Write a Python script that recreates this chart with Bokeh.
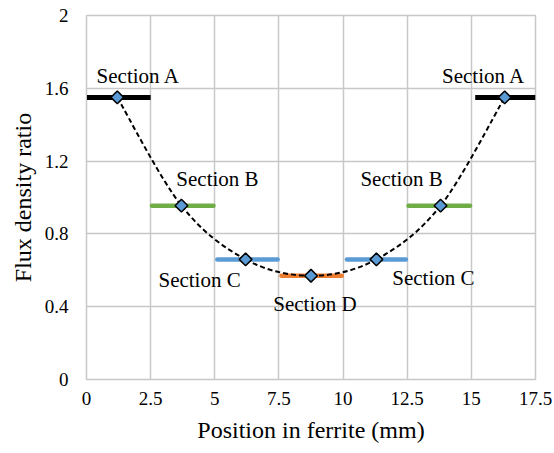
import numpy as np
from bokeh.plotting import figure
from bokeh.models import FixedTicker, ColumnDataSource, Range1d
from bokeh.core.properties import value
from bokeh.embed import file_html
from bokeh.resources import INLINE

# ---- data ----
point_x = [1.2, 3.7, 6.2, 8.75, 11.3, 13.8, 16.3]
point_y = [1.55, 0.955, 0.66, 0.57, 0.66, 0.955, 1.55]
section_names = ["Section A", "Section B", "Section C", "Section D",
                 "Section C", "Section B", "Section A"]
seg_start = [0.0, 2.55, 5.1, 7.6, 10.15, 12.55, 15.15]
seg_end = [2.5, 4.95, 7.45, 9.95, 12.45, 14.95, 17.5]
seg_colors = ["#000000", "#70AD47", "#5B9BD5", "#ED7D31", "#5B9BD5", "#70AD47", "#000000"]
x_ticks = [0, 2.5, 5, 7.5, 10, 12.5, 15, 17.5]
x_tick_labels = ["0", "2.5", "5", "7.5", "10", "12.5", "15", "17.5"]
y_ticks = [0, 0.4, 0.8, 1.2, 1.6, 2.0]
y_tick_labels = ["0", "0.4", "0.8", "1.2", "1.6", "2"]

# label pixel offsets (style; screen y grows downward)
lab_dx = [21, 36, -46, 4, 57, -39, -21]
lab_dy = [-21, -27, 21, 28, 19, -27, -21]

FONT = "Liberation Serif"

p = figure(width=554, height=453, output_backend="svg", toolbar_location=None,
           x_range=Range1d(0, 17.5), y_range=Range1d(0, 2))
p.min_border_left = 86
p.min_border_right = 19
p.min_border_top = 15
p.min_border_bottom = 74
p.outline_line_color = "#C8C8C8"
p.outline_line_width = 1.5
p.background_fill_color = "white"
p.border_fill_color = "white"

for ax in (p.xaxis[0], p.yaxis[0]):
    ax.major_tick_line_color = None
    ax.minor_tick_line_color = None
    ax.major_tick_out = 0
    ax.major_tick_in = 0
    ax.minor_tick_out = 0
    ax.minor_tick_in = 0
    ax.axis_line_color = "#C8C8C8"
    ax.major_label_text_font = FONT
    ax.major_label_text_font_size = "19px"
    ax.major_label_text_color = "#000000"
    ax.axis_label_text_font = FONT
    ax.axis_label_text_font_size = "24px"
    ax.axis_label_text_font_style = "normal"
    ax.axis_label_text_color = "#000000"

p.xaxis.ticker = FixedTicker(ticks=x_ticks)
p.yaxis.ticker = FixedTicker(ticks=y_ticks)
p.xaxis.major_label_overrides = {t: l for t, l in zip(x_ticks, x_tick_labels)}
p.yaxis.major_label_overrides = {t: l for t, l in zip(y_ticks, y_tick_labels)}
p.xaxis.axis_label = "Position in ferrite (mm)"
p.yaxis.axis_label = "Flux density ratio"
p.xaxis.major_label_standoff = 12
p.yaxis.major_label_standoff = 18
p.xaxis.axis_label_standoff = 9
p.yaxis.axis_label_standoff = 6

p.xgrid.ticker = FixedTicker(ticks=x_ticks)
p.ygrid.ticker = FixedTicker(ticks=y_ticks)
p.grid.grid_line_color = "#C8C8C8"
p.grid.grid_line_width = 1.5

# section segments
for i in range(len(point_x)):
    black = seg_colors[i] == "#000000"
    p.line([seg_start[i], seg_end[i]], [point_y[i], point_y[i]],
           line_color=seg_colors[i], line_width=5 if black else 4.5,
           line_cap="butt" if black else "round")

# smoothed dashed curve (Catmull-Rom style bezier through the points)
px = np.array(point_x)
py = np.array(point_y)
n = len(px)
x0, y0, x1, y1, cx0, cy0, cx1, cy1 = [], [], [], [], [], [], [], []
for i in range(n - 1):
    im1 = max(i - 1, 0)
    ip2 = min(i + 2, n - 1)
    x0.append(px[i]); y0.append(py[i])
    x1.append(px[i + 1]); y1.append(py[i + 1])
    cx0.append(px[i] + (px[i + 1] - px[im1]) / 6)
    cy0.append(py[i] + (py[i + 1] - py[im1]) / 6)
    cx1.append(px[i + 1] - (px[ip2] - px[i]) / 6)
    cy1.append(py[i + 1] - (py[ip2] - py[i]) / 6)
p.bezier(x0=x0, y0=y0, x1=x1, y1=y1, cx0=cx0, cy0=cy0, cx1=cx1, cy1=cy1,
         line_color="black", line_width=2, line_dash="5 3")

# diamonds
p.scatter(point_x, point_y, marker="square", angle=np.pi / 4, size=9,
          fill_color="#5B9BD5", line_color="black", line_width=1.5)

# labels
src = ColumnDataSource(dict(x=point_x, y=point_y, t=section_names, dx=lab_dx, dy=lab_dy))
p.text(x="x", y="y", text="t", x_offset="dx", y_offset="dy", source=src,
       text_font=value(FONT), text_font_size="21px", text_align="center",
       text_baseline="middle", text_color="black")

open("out.html", "w").write(file_html(p, INLINE))
